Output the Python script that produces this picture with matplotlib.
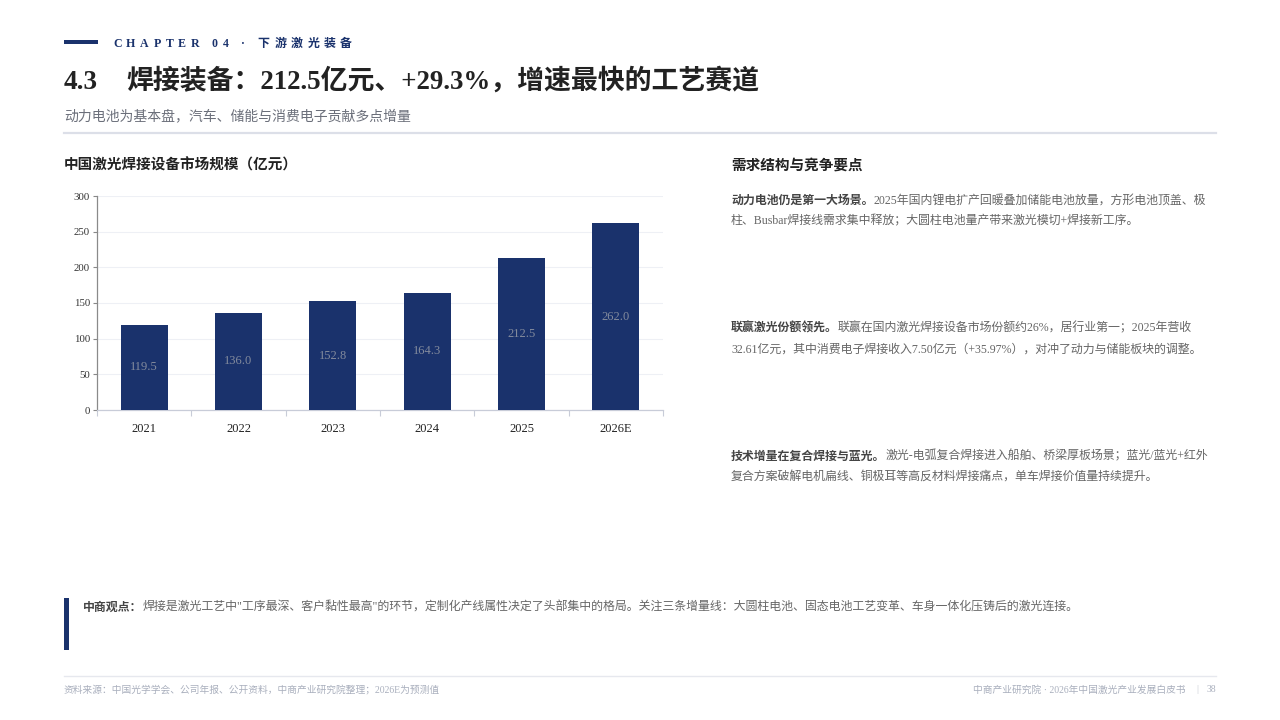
import matplotlib
matplotlib.use("Agg")
import matplotlib.pyplot as plt
from matplotlib.patches import Rectangle
from matplotlib.lines import Line2D

# ---------------- data ----------------
years = ["2021", "2022", "2023", "2024", "2025", "2026E"]
market_size = [119.5, 136.0, 152.8, 164.3, 212.5, 262.0]
y_ticks = [0, 50, 100, 150, 200, 250, 300]

chapter_text = "CHAPTER 04 · 下游激光装备"
title_num = "4.3"
title_text = "焊接装备：212.5亿元、+29.3%，增速最快的工艺赛道"
subtitle_text = "动力电池为基本盘，汽车、储能与消费电子贡献多点增量"
chart_title = "中国激光焊接设备市场规模（亿元）"
right_title = "需求结构与竞争要点"
paragraphs = [
    ("动力电池仍是第一大场景。",
     ["2025年国内锂电扩产回暖叠加储能电池放量，方形电池顶盖、极",
      "柱、Busbar焊接线需求集中释放；大圆柱电池量产带来激光模切+焊接新工序。"]),
    ("联赢激光份额领先。",
     ["联赢在国内激光焊接设备市场份额约26%，居行业第一；2025年营收",
      "32.61亿元，其中消费电子焊接收入7.50亿元（+35.97%），对冲了动力与储能板块的调整。"]),
    ("技术增量在复合焊接与蓝光。",
     ["激光-电弧复合焊接进入船舶、桥梁厚板场景；蓝光/蓝光+红外",
      "复合方案破解电机扁线、铜极耳等高反材料焊接痛点，单车焊接价值量持续提升。"]),
]
callout_lead = "中商观点："
callout_body = "焊接是激光工艺中\"工序最深、客户黏性最高\"的环节，定制化产线属性决定了头部集中的格局。关注三条增量线：大圆柱电池、固态电池工艺变革、车身一体化压铸后的激光连接。"
footer_left = "资料来源：中国光学学会、公司年报、公开资料，中商产业研究院整理；2026E为预测值"
footer_right = "中商产业研究院 · 2026年中国激光产业发展白皮书"
page_no = "38"

# ---------------- style ----------------
NAVY = "#1a326c"
W, H = 1280, 720
MIX = ["Liberation Serif", "Noto Sans CJK SC", "DejaVu Sans"]
SERIF = ["Liberation Serif", "DejaVu Serif"]
SANS = ["Noto Sans CJK SC", "DejaVu Sans"]
plt.rcParams["font.family"] = MIX

fig = plt.figure(figsize=(12.8, 7.2), dpi=100)
fig.patch.set_facecolor("white")
renderer = fig.canvas.get_renderer()


def fx(x):
    return x / W


def fy(y):
    return 1 - y / H


def runs(x, y, items):
    cx = x
    for txt, kw in items:
        t = fig.text(fx(cx), fy(y), txt, va="baseline", ha="left", family=MIX, **kw)
        cx += t.get_window_extent(renderer).width
    return cx


def spaced(x, y, text, track, **kw):
    cx = x
    for ch in text:
        t = fig.text(fx(cx), fy(y), ch, va="baseline", ha="left", family=MIX, **kw)
        w = t.get_window_extent(renderer).width
        if ch == " ":
            w = kw.get("fontsize", 9) * 1.389 * 0.3
        cx += w + track


# header bar + chapter
fig.add_artist(Rectangle((fx(64), fy(44)), fx(98) - fx(64), 4 / H,
                         transform=fig.transFigure, color=NAVY, lw=0))
spaced(113, 47, chapter_text, 4.6, fontsize=8.6, fontweight="bold", color=NAVY)

# title
runs(64, 89, [(title_num, dict(fontsize=19.5, fontweight="bold", color="#222222"))])
runs(126, 89, [(title_text, dict(fontsize=19.4, fontweight="bold", color="#222222"))])
fig.text(fx(64), fy(116), subtitle_text, va="center", ha="left",
         fontsize=10, color="#6b6f7a", family=SANS)
fig.add_artist(Line2D([fx(64), fx(1216)], [fy(133), fy(133)],
                      transform=fig.transFigure, color="#dcdfe8", lw=1.6))

# chart title
fig.text(fx(64), fy(165), chart_title, va="center", ha="left",
         fontsize=10.5, fontweight="bold", color="#222222", family=SANS)

# ---------------- bar chart ----------------
ax = fig.add_axes([fx(97), fy(410), fx(663) - fx(97), (410 - 196) / H])
xs = list(range(len(years)))
bars = ax.bar(xs, market_size, width=0.5, color=NAVY, zorder=3)
for xi, v in zip(xs, market_size):
    ax.text(xi, v / 2, f"{v:.1f}", ha="center", va="center",
            fontsize=9, color="#838b9d", family=SERIF, zorder=4)
ax.set_xlim(-0.5, len(years) - 0.5)
ax.set_ylim(0, 300)
ax.set_yticks(y_ticks)
ax.set_yticklabels([str(t) for t in y_ticks], fontsize=7.8, color="#333333", family=SERIF)
ax.set_xticks(xs)
ax.set_xticklabels(years, fontsize=9, color="#222222", family=SERIF)
ax.set_xticks([i - 0.5 for i in range(len(years) + 1)], minor=True)
ax.tick_params(axis="x", which="major", length=0, pad=9)
ax.tick_params(axis="x", which="minor", length=4, color="#c8ccd8", width=0.8)
ax.tick_params(axis="y", length=3, color="#888888", width=0.8, pad=2)
ax.yaxis.grid(True, color="#eef0f5", lw=0.8, zorder=0)
ax.set_axisbelow(True)
for s in ["top", "right"]:
    ax.spines[s].set_visible(False)
ax.spines["left"].set_color("#8a8a8a")
ax.spines["left"].set_linewidth(0.9)
ax.spines["bottom"].set_color("#c8ccd8")
ax.spines["bottom"].set_linewidth(0.9)

# ---------------- right panel ----------------
fig.text(fx(731), fy(165), right_title, va="center", ha="left",
         fontsize=10.5, fontweight="bold", color="#222222", family=SANS)
para_y = [203.5, 331.5, 459.5]
for (lead, lines), y0 in zip(paragraphs, para_y):
    runs(731, y0, [(lead, dict(fontsize=8.6, fontweight="bold", color="#444444")),
                   (lines[0], dict(fontsize=8.6, color="#666666"))])
    runs(731, y0 + 21, [(lines[1], dict(fontsize=8.6, color="#666666"))])

# ---------------- callout ----------------
fig.add_artist(Rectangle((fx(64), fy(650)), fx(69) - fx(64), (650 - 598) / H,
                         transform=fig.transFigure, color=NAVY, lw=0))
runs(83, 611, [(callout_lead, dict(fontsize=8.6, fontweight="bold", color="#444444")),
               (callout_body, dict(fontsize=8.6, color="#666666"))])

# ---------------- footer ----------------
fig.add_artist(Line2D([fx(64), fx(1216)], [fy(676), fy(676)],
                      transform=fig.transFigure, color="#e6e8ee", lw=1))
fig.text(fx(64), fy(690), footer_left, va="center", ha="left",
         fontsize=7, color="#a9afbd", family=MIX)
fig.text(fx(1216), fy(690), page_no, va="center", ha="right",
         fontsize=7, color="#a9afbd", family=MIX)
fig.text(fx(1197), fy(690), "|", va="center", ha="center",
         fontsize=7, color="#c5c9d3", family=MIX)
fig.text(fx(1186), fy(690), footer_right, va="center", ha="right",
         fontsize=7, color="#a9afbd", family=MIX)

fig.savefig("out.png", dpi=100, facecolor="white")
